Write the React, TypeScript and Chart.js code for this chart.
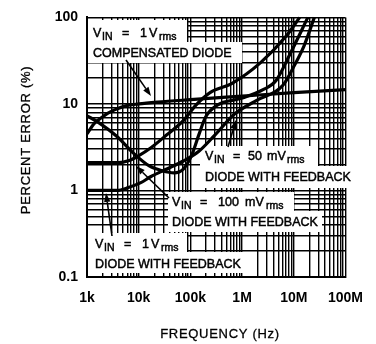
import React, { useEffect, useRef } from 'react';
import { Chart, registerables } from 'chart.js';

Chart.register(...registerables);

// ---- Axis ticks ----
const xTickValues = [1e3, 1e4, 1e5, 1e6, 1e7, 1e8];
const xTickLabels = ['1k', '10k', '100k', '1M', '10M', '100M'];
const yTickValues = [0.1, 1, 10, 100];
const yTickLabels = ['0.1', '1', '10', '100'];

// ---- Series (frequency in Hz, error in %) ----
// V_IN = 1 Vrms, compensated diode
const compFreq = [1e3, 1.4e3, 1.75e3, 2.5e3, 3.5e3, 5.6e3, 1e4, 2.3e4, 1e5, 1e6, 1e7, 1e8];
const compErr = [4.5, 6.0, 6.7, 7.8, 8.6, 9.5, 10.0, 10.5, 11.2, 12.3, 13.5, 14.6];

// V_IN = 100 mVrms, diode with feedback
const fb100Freq = [1e3, 4.1e3, 6.3e3, 9.7e3, 1.7e4, 3.5e4, 7.3e4, 1.28e5, 2.44e5, 6.3e5, 2.28e6, 7e6, 1.3e7];
const fb100Err = [2.1, 2.1, 2.2, 2.5, 3.1, 4.4, 6.4, 9.7, 13.6, 17.2, 30, 60, 100];

// V_IN = 50 mVrms, diode with feedback
const fb50Freq = [1e3, 1.6e3, 3.8e3, 7.9e3, 1.6e4, 2.85e4, 4.8e4, 7.3e4, 1.04e5, 1.46e5, 1.97e5, 3.3e5, 9.66e5, 2.6e6, 4.5e6, 8.6e6, 1.87e7];
const fb50Err = [7.3, 6.2, 4.2, 2.7, 1.92, 1.69, 1.6, 1.77, 2.49, 4.42, 7.07, 9.67, 11.6, 14.7, 18.5, 38.5, 100];

// V_IN = 1 Vrms, diode with feedback
const fb1Freq = [1e3, 3.8e3, 6.3e3, 1.1e4, 1.7e4, 3.5e4, 7.3e4, 1.46e5, 3.03e5, 7.14e5, 1.92e6, 6.1e6, 1.03e7, 1.58e7, 2.5e7];
const fb1Err = [1.0, 1.0, 1.08, 1.23, 1.44, 1.77, 2.19, 2.84, 4.42, 7.64, 11.0, 16.3, 28, 47, 100];

const FONT = '"Liberation Sans", Arial, Helvetica, sans-serif';

function logGrid(min: number, max: number) {
  const out: { value: number }[] = [];
  for (let d = min; d < max * 0.999; d *= 10) {
    for (let k = 1; k < 10; k++) out.push({ value: parseFloat((k * d).toPrecision(3)) });
  }
  out.push({ value: max });
  return out;
}

function pts(f: number[], e: number[]) {
  return f.map((x, i) => ({ x, y: e[i] }));
}

type Part = { t: string; dx: number; sub?: boolean };

const vLine1 = (val: string, unitPrefix: string, offs: number[]): Part[] => [
  { t: 'V', dx: offs[0] },
  { t: 'IN', dx: offs[1], sub: true },
  { t: '=', dx: offs[2] },
  { t: val, dx: offs[3] },
  { t: unitPrefix + 'V', dx: offs[4] },
  { t: 'rms', dx: offs[5], sub: true },
];

// annotation layout (canvas pixels)
const labelBoxes = [
  { rects: [[88, 20, 187, 42], [88, 42, 242, 63]], x: 93, b1: 37, b2: 57,
    l1: vLine1('1', '', [0, 9, 29, 47, 56, 66]), l2: 'COMPENSATED DIODE' },
  { rects: [[200, 146, 318, 166], [199, 166, 353, 188]], x: 205, b1: 160, b2: 181,
    l1: vLine1('50', 'm', [0, 9, 28, 43, 62, 82]), l2: 'DIODE WITH FEEDBACK' },
  { rects: [[168, 192, 294, 211], [168, 211, 322, 232]], x: 172, b1: 206, b2: 226,
    l1: vLine1('100', 'm', [0, 9, 28, 46, 73, 94]), l2: 'DIODE WITH FEEDBACK' },
  { rects: [[88, 233, 187, 252], [88, 252, 249, 273]], x: 95, b1: 248, b2: 268,
    l1: vLine1('1', '', [0, 9, 29, 47, 56, 66]), l2: 'DIODE WITH FEEDBACK' },
];

const arrows = [
  [126, 60, 151, 96],
  [228, 147, 236, 120],
  [169, 198, 136, 166],
  [112, 236, 106, 193],
];

function heavyText(ctx: CanvasRenderingContext2D, t: string, x: number, y: number) {
  ctx.fillText(t, x, y);
  ctx.strokeText(t, x, y);
}

const annotationPlugin = {
  id: 'annotations',
  beforeDatasetsDraw(chart: any) {
    const ctx = chart.ctx;
    ctx.save();
    ctx.fillStyle = '#fff';
    labelBoxes.forEach((b) => b.rects.forEach((r) => ctx.fillRect(r[0], r[1], r[2] - r[0], r[3] - r[1])));
    ctx.restore();
  },
  afterDatasetsDraw(chart: any) {
    const ctx = chart.ctx;
    ctx.save();
    ctx.fillStyle = '#000';
    ctx.strokeStyle = '#000';
    ctx.lineWidth = 0.45;
    ctx.textBaseline = 'alphabetic';
    ctx.textAlign = 'left';
    labelBoxes.forEach((b) => {
      b.l1.forEach((p) => {
        ctx.font = p.sub ? `10.5px ${FONT}` : `12.5px ${FONT}`;
        heavyText(ctx, p.t, b.x + p.dx, b.b1 + (p.sub ? 3 : 0));
      });
      ctx.font = `12.5px ${FONT}`;
      heavyText(ctx, b.l2, b.x, b.b2);
    });
    // arrows
    ctx.lineWidth = 1.6;
    arrows.forEach(([x1, y1, x2, y2]) => {
      const ang = Math.atan2(y2 - y1, x2 - x1);
      const len = 9, w = 3.2;
      const bx = x2 - len * Math.cos(ang), by = y2 - len * Math.sin(ang);
      ctx.beginPath();
      ctx.moveTo(x1, y1);
      ctx.lineTo(bx, by);
      ctx.stroke();
      ctx.beginPath();
      ctx.moveTo(x2, y2);
      ctx.lineTo(bx + w * Math.sin(ang), by - w * Math.cos(ang));
      ctx.lineTo(bx - w * Math.sin(ang), by + w * Math.cos(ang));
      ctx.closePath();
      ctx.fill();
    });
    // axis titles
    ctx.lineWidth = 0.3;
    ctx.font = `13px ${FONT}`;
    (ctx as any).letterSpacing = '0.7px';
    ctx.textAlign = 'center';
    ctx.textBaseline = 'middle';
    heavyText(ctx, 'FREQUENCY (Hz)', 220, 334);
    ctx.translate(26, 140);
    ctx.rotate(-Math.PI / 2);
    heavyText(ctx, 'PERCENT ERROR (%)', 0, 0);
    ctx.restore();
  },
};

export default function App() {
  const ref = useRef<HTMLCanvasElement>(null);
  useEffect(() => {
    if (!ref.current) return;
    const line = (label: string, f: number[], e: number[]) => ({
      label,
      data: pts(f, e),
      borderColor: '#000',
      backgroundColor: '#000',
      borderWidth: 3.2,
      pointRadius: 0,
      fill: false,
      cubicInterpolationMode: 'monotone' as const,
      clip: 1,
    });
    const chart = new Chart(ref.current, {
      type: 'line',
      data: {
        datasets: [
          line('VIN = 1 Vrms compensated diode', compFreq, compErr),
          line('VIN = 100 mVrms diode with feedback', fb100Freq, fb100Err),
          line('VIN = 50 mVrms diode with feedback', fb50Freq, fb50Err),
          line('VIN = 1 Vrms diode with feedback', fb1Freq, fb1Err),
        ],
      },
      options: {
        animation: false,
        responsive: false,
        devicePixelRatio: 1,
        layout: { padding: { left: 0, right: 21, top: 12, bottom: 0 } },
        plugins: { legend: { display: false }, tooltip: { enabled: false } },
        scales: {
          x: {
            type: 'logarithmic',
            min: 1e3,
            max: 1e8,
            afterBuildTicks: (s: any) => { s.ticks = logGrid(1e3, 1e8); },
            afterFit: (s: any) => { s.height = 67; },
            grid: { color: '#000', lineWidth: 1.4, drawTicks: false },
            border: { color: '#000', width: 2 },
            ticks: {
              autoSkip: false,
              maxRotation: 0,
              padding: 13,
              color: '#000',
              font: { family: FONT, size: 14, weight: 'bold' },
              callback: (v: any) => {
                const i = xTickValues.findIndex((t) => Math.abs(t - v) / t < 1e-6);
                return i >= 0 ? xTickLabels[i] : '';
              },
            },
          },
          y: {
            type: 'logarithmic',
            min: 0.1,
            max: 100,
            afterBuildTicks: (s: any) => { s.ticks = logGrid(0.1, 100); },
            afterFit: (s: any) => { s.width = 87; },
            grid: { color: '#000', lineWidth: 1.4, drawTicks: false },
            border: { color: '#000', width: 2 },
            ticks: {
              autoSkip: false,
              padding: 9,
              color: '#000',
              font: { family: FONT, size: 14, weight: 'bold' },
              callback: (v: any) => {
                const i = yTickValues.findIndex((t) => Math.abs(t - v) / t < 1e-6);
                return i >= 0 ? yTickLabels[i] : '';
              },
            },
          },
        },
      },
      plugins: [annotationPlugin],
    });
    return () => chart.destroy();
  }, []);
  return (
    <div style={{ position: 'absolute', left: 0, top: 0, width: 376, height: 344, background: '#fff' }}>
      <canvas ref={ref} width={376} height={344} style={{ width: 376, height: 344 }} />
    </div>
  );
}
